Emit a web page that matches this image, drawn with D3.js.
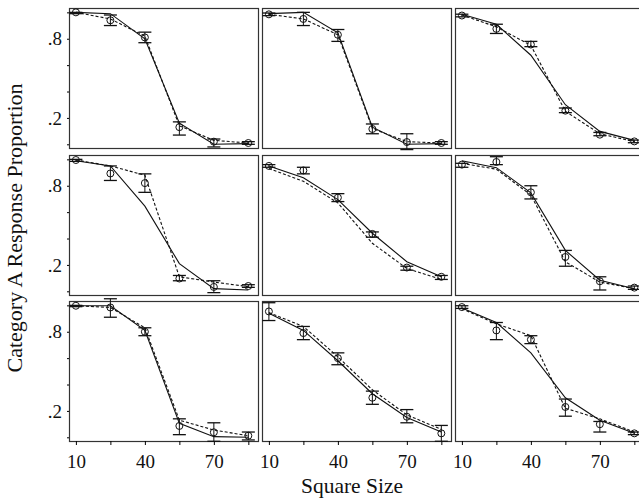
<!DOCTYPE html>
<html lang="en">
<head>
<meta charset="utf-8">
<title>Category A Response Proportion</title>
<script type="text/javascript" src="https://cdn.jsdelivr.net/npm/d3@7"></script>
<style>
  body { margin: 0; background: #fff; }
  text { font-family: "Liberation Serif", "DejaVu Serif", serif; fill: #111; }
</style>
</head>
<body>
<div id="chart"></div>
<script type="text/javascript">
// x values shared by every panel
const squareSizes = [10, 25, 40, 55, 70, 85];
const xLabelled = [10, 40, 70];
const yTicks = [0, 0.2, 0.4, 0.6, 0.8, 1];
const yLabelled = [0.2, 0.8];

// one row per panel, read left to right, top to bottom
const observed = [
  [1.0, 0.94, 0.81, 0.13, 0.02, 0.01],
  [0.985, 0.95, 0.83, 0.116, 0.017, 0.01],
  [0.976, 0.875, 0.756, 0.255, 0.073, 0.022],
  [0.995, 0.893, 0.82, 0.097, 0.033, 0.04],
  [0.95, 0.916, 0.71, 0.435, 0.18, 0.11],
  [0.96, 0.98, 0.75, 0.26, 0.076, 0.028],
  [0.997, 0.984, 0.80, 0.086, 0.038, 0.012],
  [0.954, 0.79, 0.60, 0.30, 0.156, 0.03],
  [0.987, 0.81, 0.74, 0.23, 0.099, 0.03]
];
const errLow = [
  [0.99, 0.90, 0.77, 0.07, -0.02, 0.0],
  [0.975, 0.90, 0.78, 0.08, -0.04, 0.0],
  [0.966, 0.84, 0.74, 0.24, 0.065, 0.012],
  [0.985, 0.84, 0.75, 0.08, -0.01, 0.03],
  [0.94, 0.89, 0.68, 0.41, 0.16, 0.09],
  [0.94, 0.96, 0.70, 0.19, 0.01, 0.015],
  [0.99, 0.91, 0.77, 0.02, -0.03, -0.02],
  [0.885, 0.74, 0.55, 0.25, 0.11, -0.03],
  [0.977, 0.74, 0.71, 0.16, 0.04, 0.02]
];
const errHigh = [
  [1.0, 0.98, 0.85, 0.17, 0.04, 0.02],
  [0.995, 1.0, 0.87, 0.154, 0.08, 0.02],
  [0.986, 0.91, 0.78, 0.275, 0.09, 0.032],
  [1.0, 0.95, 0.89, 0.12, 0.08, 0.05],
  [0.96, 0.94, 0.74, 0.45, 0.19, 0.12],
  [0.97, 1.02, 0.80, 0.31, 0.11, 0.04],
  [1.0, 1.05, 0.83, 0.14, 0.11, 0.04],
  [1.02, 0.84, 0.64, 0.35, 0.21, 0.09],
  [0.997, 0.87, 0.77, 0.29, 0.12, 0.04]
];
const solidModel = [
  [1.0, 0.99, 0.80, 0.16, 0.0, 0.005],
  [0.99, 1.0, 0.845, 0.13, 0.0, 0.005],
  [0.985, 0.91, 0.675, 0.30, 0.098, 0.03],
  [0.99, 0.95, 0.645, 0.21, 0.02, 0.01],
  [0.95, 0.86, 0.695, 0.44, 0.224, 0.11],
  [0.99, 0.937, 0.746, 0.31, 0.084, 0.02],
  [0.997, 0.997, 0.81, 0.106, 0.005, 0.0],
  [0.94, 0.81, 0.58, 0.33, 0.15, 0.04],
  [0.98, 0.87, 0.64, 0.30, 0.13, 0.03]
];
const dashedModel = [
  [1.0, 0.95, 0.82, 0.14, 0.03, 0.01],
  [0.985, 0.95, 0.83, 0.12, 0.02, 0.01],
  [0.98, 0.89, 0.75, 0.25, 0.08, 0.02],
  [0.995, 0.95, 0.88, 0.11, 0.07, 0.035],
  [0.93, 0.834, 0.67, 0.364, 0.173, 0.09],
  [0.97, 0.925, 0.73, 0.224, 0.07, 0.02],
  [0.997, 0.984, 0.83, 0.13, 0.055, 0.012],
  [0.945, 0.84, 0.61, 0.36, 0.17, 0.06],
  [0.975, 0.86, 0.77, 0.22, 0.14, 0.04]
];

const w = 639;
const h = 499;
const panelW = 189;
const panelH = 140;
const colX = [69, 262, 455];
const rowY = [8, 155, 301];
const capHalf = 6.5;

let xScale = d3.scaleLinear().domain([7, 89.2]).range([0, panelW]);
let yScale = d3.scaleLinear().domain([-0.028, 1.033]).range([panelH, 0]);

let svg = d3.select("#chart")
  .append("svg")
  .attr("width", w)
  .attr("height", h);

const line = d3.line()
  .x((d, i) => xScale(squareSizes[i]))
  .y((d) => yScale(d));

for (let p = 0; p < observed.length; p++) {
  const row = Math.floor(p / 3);
  const col = p % 3;
  let g = svg.append("g")
    .attr("transform", `translate(${colX[col]},${rowY[row]})`);

  g.append("rect")
    .attr("x", 0.5)
    .attr("y", 0.5)
    .attr("width", panelW)
    .attr("height", panelH)
    .attr("fill", "none")
    .attr("stroke", "#333")
    .attr("stroke-width", 1.2);

  if (col == 0) {
    let yAxis = d3.axisLeft(yScale)
      .tickValues(yTicks)
      .tickSize(2)
      .tickPadding(5)
      .tickFormat((d) => yLabelled.includes(d) ? d3.format(".1f")(d).replace("0.", ".") : "");
    let ya = g.append("g").call(yAxis);
    ya.select(".domain").remove();
    ya.selectAll("text").attr("font-size", 19).attr("font-family", null);
  }

  if (row == 2) {
    let xAxis = d3.axisBottom(xScale)
      .tickValues(squareSizes)
      .tickSize(4)
      .tickPadding(10)
      .tickFormat((d) => xLabelled.includes(d) ? d : "");
    let xa = g.append("g")
      .attr("transform", `translate(0,${panelH})`)
      .call(xAxis);
    xa.select(".domain").remove();
    xa.selectAll("text").attr("font-size", 19).attr("font-family", null);
  }

  g.append("path")
    .datum(solidModel[p])
    .attr("d", line)
    .attr("fill", "none")
    .attr("stroke", "#111")
    .attr("stroke-width", 1.1);

  g.append("path")
    .datum(dashedModel[p])
    .attr("d", line)
    .attr("fill", "none")
    .attr("stroke", "#111")
    .attr("stroke-width", 1.1)
    .attr("stroke-dasharray", "3,2");

  let bars = g.selectAll(".err")
    .data(squareSizes.map((s, i) => ({ s: s, lo: errLow[p][i], hi: errHigh[p][i], v: observed[p][i] })))
    .enter()
    .append("g")
    .attr("class", "err");

  bars.append("line")
    .attr("x1", (d) => xScale(d.s))
    .attr("x2", (d) => xScale(d.s))
    .attr("y1", (d) => yScale(d.lo))
    .attr("y2", (d) => yScale(d.hi))
    .attr("stroke", "#111");

  bars.append("line")
    .attr("x1", (d) => xScale(d.s) - capHalf)
    .attr("x2", (d) => xScale(d.s) + capHalf)
    .attr("y1", (d) => yScale(d.lo))
    .attr("y2", (d) => yScale(d.lo))
    .attr("stroke", "#111")
    .attr("stroke-width", 1.3);

  bars.append("line")
    .attr("x1", (d) => xScale(d.s) - capHalf)
    .attr("x2", (d) => xScale(d.s) + capHalf)
    .attr("y1", (d) => yScale(d.hi))
    .attr("y2", (d) => yScale(d.hi))
    .attr("stroke", "#111")
    .attr("stroke-width", 1.3);

  bars.append("circle")
    .attr("cx", (d) => xScale(d.s))
    .attr("cy", (d) => yScale(d.v))
    .attr("r", 3.5)
    .attr("fill", "none")
    .attr("stroke", "#111");
}

svg.append("text")
  .attr("transform", "translate(22,228) rotate(-90)")
  .attr("text-anchor", "middle")
  .attr("font-size", 22)
  .text("Category A Response Proportion");

svg.append("text")
  .attr("x", 352)
  .attr("y", 493)
  .attr("text-anchor", "middle")
  .attr("font-size", 21.5)
  .text("Square Size");
</script>
</body>
</html>
